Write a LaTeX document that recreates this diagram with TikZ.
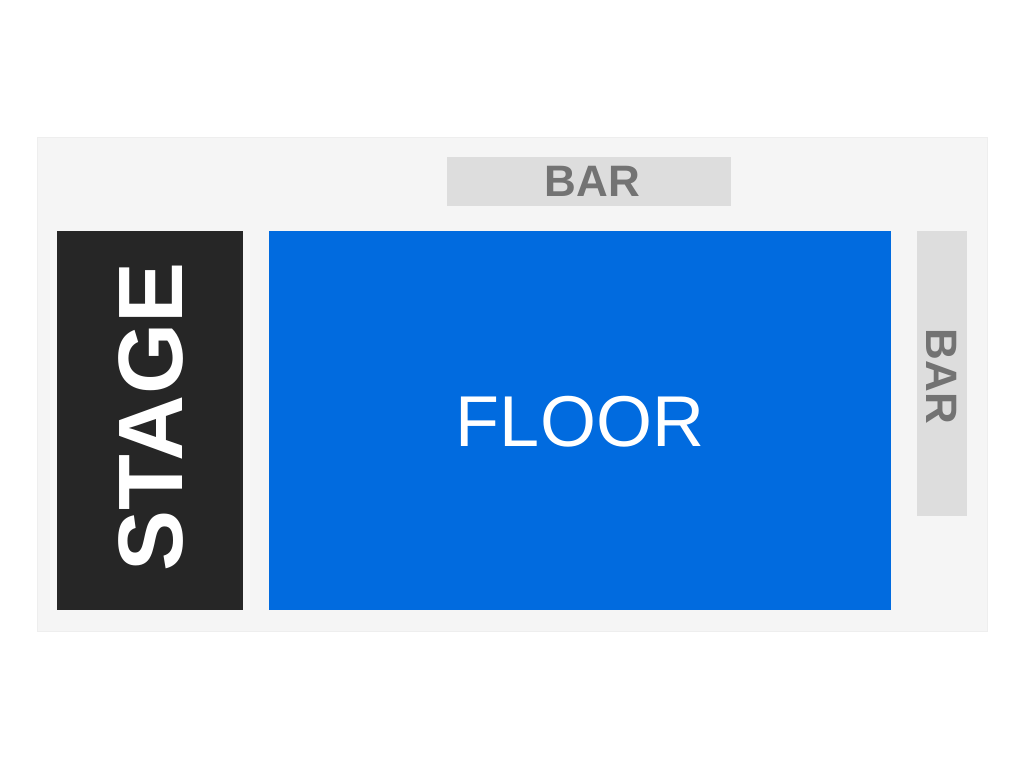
\documentclass[tikz,border=0pt]{standalone}
\usepackage{fontspec}
\setmainfont{Liberation Sans}
\definecolor{bgc}{HTML}{F5F5F5}
\definecolor{bgedge}{HTML}{EEEEEE}
\definecolor{stagec}{HTML}{262626}
\definecolor{floorc}{HTML}{016BDF}
\definecolor{barc}{HTML}{DDDDDD}
\definecolor{bartext}{HTML}{737373}
\begin{document}
\begin{tikzpicture}[x=1pt,y=-1pt,
  lbl/.style={inner sep=0pt,outer sep=0pt,text depth=0pt,anchor=center}]
\useasboundingbox (0,0) rectangle (1024,768);
\fill[white] (0,0) rectangle (1024,768);
\filldraw[fill=bgc,draw=bgedge,line width=1pt] (37,137) rectangle (987,631);
\fill[stagec] (57,231) rectangle (243,610);
\fill[floorc] (269,231) rectangle (891,610);
\fill[barc] (447,157) rectangle (731,206);
\fill[barc] (917,231) rectangle (967,516);
\node[lbl,text=white,font=\fontsize{91.5}{91.5}\selectfont\bfseries,text height=65.5pt,rotate=90] (stage) at (150,417) {STAGE};
\node[lbl,text=white,font=\fontsize{72}{72}\selectfont,text height=51.5pt] (floor) at (580,421) {FLOOR};
\node[lbl,text=bartext,font=\fontsize{44}{44}\selectfont\bfseries,text height=31.5pt] (bartop) at (592.5,181) {BAR};
\node[lbl,text=bartext,font=\fontsize{44}{44}\selectfont\bfseries,text height=31.5pt,rotate=-90] (barright) at (942,376.5) {BAR};
\end{tikzpicture}
\end{document}
